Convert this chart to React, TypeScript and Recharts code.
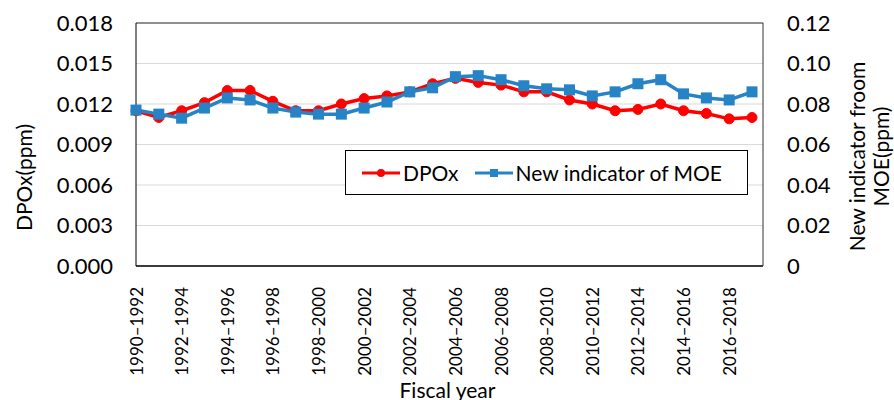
import React from 'react';
import {
  LineChart,
  Line,
  XAxis,
  YAxis,
  CartesianGrid,
  Legend,
  ReferenceLine,
} from 'recharts';

// fiscal year windows (3-year moving)
const periods = [
  '1990–1992', '1991–1993', '1992–1994', '1993–1995', '1994–1996', '1995–1997', '1996–1998',
  '1997–1999', '1998–2000', '1999–2001', '2000–2002', '2001–2003', '2002–2004', '2003–2005',
  '2004–2006', '2005–2007', '2006–2008', '2007–2009', '2008–2010', '2009–2011', '2010–2012',
  '2011–2013', '2012–2014', '2013–2015', '2014–2016', '2015–2017', '2016–2018', '2017–2019',
];

const dpox = [
  0.0115, 0.011, 0.0115, 0.0121, 0.013, 0.013, 0.0122,
  0.0115, 0.0115, 0.012, 0.0124, 0.0126, 0.0129, 0.0135,
  0.0139, 0.0136, 0.0134, 0.0129, 0.0129, 0.0123, 0.012,
  0.0115, 0.0116, 0.012, 0.0115, 0.0113, 0.0109, 0.011,
];

const moe = [
  0.077, 0.075, 0.073, 0.078, 0.083, 0.082, 0.078,
  0.076, 0.075, 0.075, 0.078, 0.081, 0.086, 0.088,
  0.0935, 0.094, 0.092, 0.089, 0.0875, 0.087, 0.084,
  0.086, 0.09, 0.092, 0.085, 0.083, 0.082, 0.086,
];

const leftTicks = [0, 0.003, 0.006, 0.009, 0.012, 0.015, 0.018];
const rightTicks = [0, 0.02, 0.04, 0.06, 0.08, 0.1, 0.12];

const data = periods.map((p, i) => ({ period: p, dpox: dpox[i], moe: moe[i] }));

const FONT = "Lato, 'Open Sans', sans-serif";
const RED = '#FF0000';
const BLUE = '#2683C6';

const XTick = (props: any) => {
  const { x, y, payload } = props;
  return (
    <text
      x={x}
      y={y + 13}
      transform={`rotate(-90, ${x}, ${y + 13})`}
      textAnchor="end"
      dominantBaseline="central"
      fontSize={17}
      fontFamily={FONT}
      fill="#000"
    >
      {payload.value}
    </text>
  );
};

const LegendBox = (props: any) => {
  const items = props.payload || [];
  return (
    <div
      style={{
        border: '1px solid #000',
        background: '#fff',
        height: 45,
        boxSizing: 'border-box',
        display: 'flex',
        alignItems: 'center',
        paddingLeft: 16,
        fontFamily: FONT,
        fontSize: 21,
        color: '#000',
      }}
    >
      {items.map((it: any) => (
        <span key={it.value} style={{ display: 'flex', alignItems: 'center', marginRight: 16 }}>
          <svg width={38} height={14} style={{ marginRight: 3 }}>
            <line x1={0} y1={7} x2={38} y2={7} stroke={it.color} strokeWidth={3} />
            {it.dataKey === 'dpox' ? (
              <circle cx={19} cy={7} r={4} fill={it.color} />
            ) : (
              <rect x={15} y={3} width={8} height={8} fill={it.color} />
            )}
          </svg>
          {it.value}
        </span>
      ))}
    </div>
  );
};

export default function App() {
  return (
    <div style={{ position: 'absolute', left: 0, top: 0, background: '#fff' }}>
      <LineChart
        width={894}
        height={400}
        data={data}
        margin={{ top: 23, right: 0, bottom: 0, left: 0 }}
      >
        <CartesianGrid yAxisId="left" vertical={false} stroke="#D9D9D9" strokeWidth={1} />
        <XAxis
          dataKey="period"
          interval={1}
          height={134}
          padding={{ left: 0, right: 11 }}
          tick={<XTick />}
          tickLine={false}
          axisLine={{ stroke: '#000', strokeWidth: 1.5 }}
          label={(p: any) => {
            const vb = p.viewBox;
            return (
              <text
                x={vb.x + vb.width / 2 - 2}
                y={389}
                textAnchor="middle"
                dominantBaseline="central"
                fontSize={21}
                fontFamily={FONT}
                fill="#000"
              >
                Fiscal year
              </text>
            );
          }}
        />
        <YAxis
          yAxisId="left"
          width={136}
          domain={[0, 0.018]}
          ticks={leftTicks}
          tickFormatter={(v: number) => v.toFixed(3)}
          tick={{ fontSize: 22, fontFamily: FONT, fill: '#000' }}
          tickLine={false}
          tickSize={0}
          tickMargin={23}
          axisLine={{ stroke: '#000' }}
          label={(p: any) => {
            const vb = p.viewBox;
            const cx = 23;
            const cy = vb.y + vb.height / 2 + 33;
            return (
              <text
                x={cx}
                y={cy}
                transform={`rotate(-90, ${cx}, ${cy})`}
                textAnchor="middle"
                dominantBaseline="central"
                fontSize={21}
                fontFamily={FONT}
                fill="#000"
              >
                DPOx(ppm)
              </text>
            );
          }}
        />
        <YAxis
          yAxisId="right"
          orientation="right"
          width={131}
          domain={[0, 0.12]}
          ticks={rightTicks}
          tickFormatter={(v: number) => (v === 0 ? '0' : v.toFixed(2))}
          tick={{ fontSize: 22, fontFamily: FONT, fill: '#000' }}
          tickLine={false}
          tickSize={0}
          tickMargin={24}
          axisLine={{ stroke: '#333' }}
          label={(p: any) => {
            const vb = p.viewBox;
            const cy = vb.y + vb.height / 2 + 12;
            return (
              <g fontSize={21} fontFamily={FONT} fill="#000">
                <text
                  x={856}
                  y={cy}
                  transform={`rotate(-90, 856, ${cy})`}
                  textAnchor="middle"
                  dominantBaseline="central"
                >
                  New indicator froom
                </text>
                <text
                  x={880}
                  y={cy}
                  transform={`rotate(-90, 880, ${cy})`}
                  textAnchor="middle"
                  dominantBaseline="central"
                >
                  MOE(ppm)
                </text>
              </g>
            );
          }}
        />
        <ReferenceLine yAxisId="left" y={0.018} stroke="#333" strokeWidth={1} />
        <Legend
          layout="horizontal"
          verticalAlign="middle"
          align="center"
          content={<LegendBox />}
          wrapperStyle={{ left: 345, top: 150, width: 403, height: 45 }}
        />
        <Line
          yAxisId="left"
          dataKey="dpox"
          name="DPOx"
          stroke={RED}
          strokeWidth={3.5}
          dot={{ r: 5, fill: RED, stroke: RED, strokeWidth: 1 }}
          activeDot={false}
          isAnimationActive={false}
        />
        <Line
          yAxisId="right"
          dataKey="moe"
          name="New indicator of MOE"
          stroke={BLUE}
          strokeWidth={3.5}
          dot={(p: any) => (
            <rect
              key={`sq-${p.index}`}
              x={p.cx - 5.5}
              y={p.cy - 5.5}
              width={11}
              height={11}
              fill={BLUE}
            />
          )}
          activeDot={false}
          isAnimationActive={false}
        />
      </LineChart>
    </div>
  );
}
